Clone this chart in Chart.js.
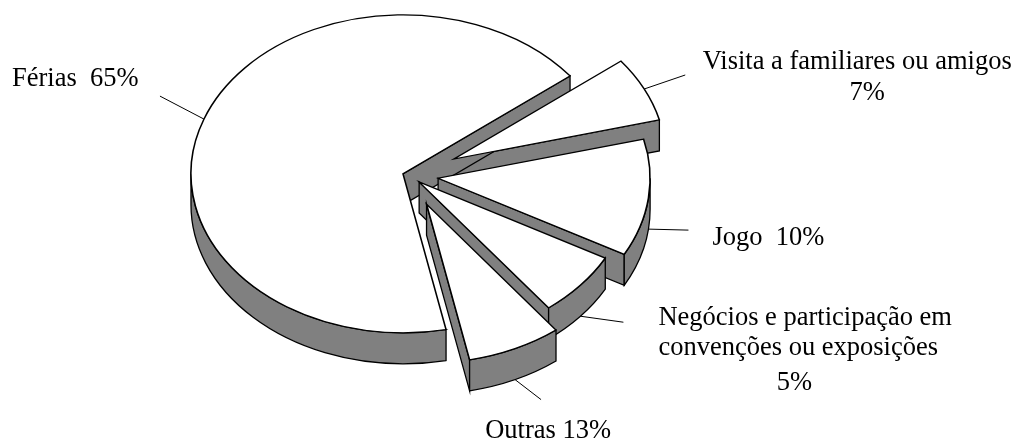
<!DOCTYPE html>
<html>
<head>
<meta charset="utf-8">
<style>
  html, body { margin: 0; padding: 0; background: #ffffff; }
  #wrap { width: 1019px; height: 441px; }
</style>
</head>
<body>
<div id="wrap"><canvas id="chart" width="1019" height="441"></canvas></div>
<script src="https://cdn.jsdelivr.net/npm/chart.js@4.4.0/dist/chart.umd.min.js"></script>
<script>
// slices, clockwise from the top right
const categories = ["Visita a familiares ou amigos", "Jogo", "Negócios e participação em convenções ou exposições", "Outras", "Férias"];
// size of each slice as it is drawn in the picture (share of the circle, %)
const shares = [6.6, 11.9, 6.6, 7.2, 67.7];
// percentages printed next to the slices
const printedPct = ["7%", "10%", "5%", "13%", "65%"];
// text of each label, line by line
const labelLines = [
    ["Visita a familiares ou amigos", "7%"],
    ["Jogo  10%"],
    ["Negócios e participação em", "convenções ou exposições", "5%"],
    ["Outras 13%"],
    ["Férias  65%"]
];

// look of the tilted pie
const SX = 212 / 159;       // horizontal stretch of the tilted disc
const DEPTH = 31;           // thickness of the disc
const explode = [37.5, 22, 10, 31.5, 4.8];
const SIDE = "#808080";
const TAU = Math.PI * 2;

// leader line (from slice edge) and text offsets (from leader end)
const leaders = [[41, -14], [40, 1], [43, 6], [26, 20], [-44, -23]];
const textPos = [
    [[172, -6, "center"], [182, 25, "center"]],
    [[24, 15, "left"]],
    [[35, 3, "left"], [35, 33, "left"], [171, 68, "center"]],
    [[7, 38, "center"]],
    [[-148, -10, "left"]]
];

function stretch(ctx, c) {
    ctx.translate(c.x, 0);
    ctx.scale(SX, 1);
    ctx.translate(-c.x, 0);
}

function toScreen(c, x, y) {
    return { x: c.x + SX * (x - c.x), y: y };
}

function frontRanges(a0, a1) {
    const out = [];
    for (let k = Math.floor(a0 / TAU) - 1; k <= Math.floor(a1 / TAU) + 1; k++) {
        const s = Math.max(a0, k * TAU);
        const e = Math.min(a1, k * TAU + Math.PI);
        if (e > s) out.push([s, e]);
    }
    return out;
}

function radialFace(ctx, c, a, t) {
    const r = a.outerRadius;
    ctx.beginPath();
    ctx.save();
    stretch(ctx, c);
    ctx.moveTo(a.x, a.y);
    ctx.lineTo(a.x + r * Math.cos(t), a.y + r * Math.sin(t));
    ctx.lineTo(a.x + r * Math.cos(t), a.y + r * Math.sin(t) + DEPTH);
    ctx.lineTo(a.x, a.y + DEPTH);
    ctx.closePath();
    ctx.restore();
    ctx.fill();
    ctx.stroke();
}

function outerWall(ctx, c, a, t0, t1) {
    const r = a.outerRadius;
    ctx.beginPath();
    ctx.save();
    stretch(ctx, c);
    ctx.arc(a.x, a.y, r, t0, t1);
    ctx.arc(a.x, a.y + DEPTH, r, t1, t0, true);
    ctx.closePath();
    ctx.restore();
    ctx.fill();
    ctx.stroke();
}

const tiltPlugin = {
    id: "tilt3d",
    afterDatasetsUpdate(chart) {
        const arcs = chart.getDatasetMeta(0).data;
        chart.$pieCenter = { x: arcs[0].x, y: arcs[0].y };
        arcs.forEach((a, i) => {
            const m = (a.startAngle + a.endAngle) / 2;
            a.x += Math.cos(m) * explode[i];
            a.y += Math.sin(m) * explode[i];
        });
    },
    beforeDatasetsDraw(chart) {
        const ctx = chart.ctx;
        const c = chart.$pieCenter;
        const arcs = chart.getDatasetMeta(0).data;
        const order = arcs.map((a, i) => i).sort((i, j) => {
            const mi = (arcs[i].startAngle + arcs[i].endAngle) / 2;
            const mj = (arcs[j].startAngle + arcs[j].endAngle) / 2;
            return Math.sin(mi) - Math.sin(mj);
        });
        ctx.save();
        ctx.fillStyle = SIDE;
        ctx.strokeStyle = "#000000";
        ctx.lineWidth = 1.3;
        ctx.lineJoin = "miter";
        order.forEach(i => {
            const a = arcs[i];
            if (Math.cos(a.startAngle) < 0) radialFace(ctx, c, a, a.startAngle);
            if (Math.cos(a.endAngle) > 0) radialFace(ctx, c, a, a.endAngle);
            frontRanges(a.startAngle, a.endAngle).forEach(rg => outerWall(ctx, c, a, rg[0], rg[1]));
        });
        ctx.restore();
    },
    beforeDatasetDraw(chart) {
        const ctx = chart.ctx;
        ctx.save();
        stretch(ctx, chart.$pieCenter);
    },
    afterDatasetDraw(chart) {
        chart.ctx.restore();
    },
    afterDraw(chart) {
        const ctx = chart.ctx;
        const c = chart.$pieCenter;
        const arcs = chart.getDatasetMeta(0).data;
        ctx.save();
        ctx.strokeStyle = "#000000";
        ctx.lineWidth = 1;
        ctx.fillStyle = "#000000";
        ctx.font = "26.5px 'Liberation Serif', 'Times New Roman', serif";
        ctx.textBaseline = "alphabetic";
        arcs.forEach((a, i) => {
            const m = (a.startAngle + a.endAngle) / 2;
            const r = a.outerRadius;
            const p = toScreen(c, a.x + r * Math.cos(m), a.y + r * Math.sin(m));
            if (Math.sin(m) > 0) p.y += DEPTH;
            const end = { x: p.x + leaders[i][0], y: p.y + leaders[i][1] };
            ctx.beginPath();
            ctx.moveTo(p.x, p.y);
            ctx.lineTo(end.x, end.y);
            ctx.stroke();
            labelLines[i].forEach((txt, k) => {
                const tp = textPos[i][k];
                ctx.textAlign = tp[2];
                ctx.fillText(txt, end.x + tp[0], end.y + tp[1]);
            });
        });
        ctx.restore();
    }
};

new Chart(document.getElementById("chart"), {
    type: "pie",
    data: {
        labels: categories,
        datasets: [
            {
                data: shares,
                backgroundColor: "#ffffff",
                borderColor: "#000000",
                borderWidth: 1.2,
                hoverBorderWidth: 1.2,
                borderJoinStyle: "miter",
                offset: 0,
                hoverOffset: 0,
                clip: false,
            },
        ],
    },
    options: {
        responsive: false,
        animation: false,
        events: [],
        rotation: 52,
        layout: {
            padding: { top: 15.9, bottom: 105.9, left: 209, right: 410 },
        },
        plugins: {
            legend: { display: false },
            tooltip: { enabled: false },
        },
    },
    plugins: [tiltPlugin],
});
</script>
</body>
</html>
